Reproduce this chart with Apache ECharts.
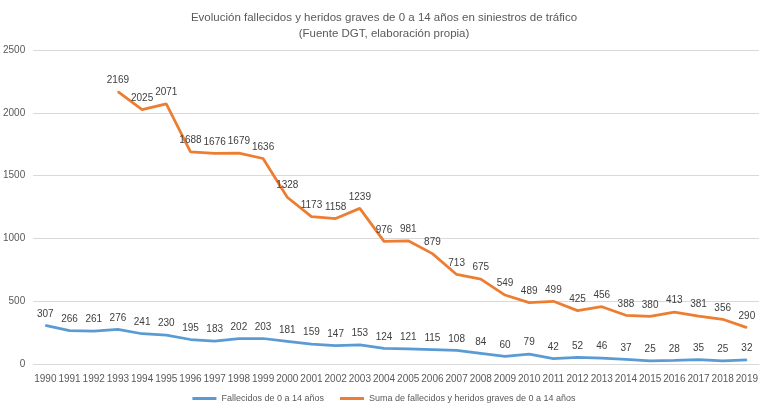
<!DOCTYPE html>
<html><head><meta charset="utf-8">
<script src="https://cdn.jsdelivr.net/npm/echarts@6/dist/echarts.min.js"></script>
<style>html,body{margin:0;padding:0;background:#fff}#c{width:768px;height:411px}</style>
</head><body><div id="c"></div>
<script>
const years = ['1990','1991','1992','1993','1994','1995','1996','1997','1998','1999','2000','2001','2002','2003','2004','2005','2006','2007','2008','2009','2010','2011','2012','2013','2014','2015','2016','2017','2018','2019'];
const fallecidos = [307,266,261,276,241,230,195,183,202,203,181,159,147,153,124,121,115,108,84,60,79,42,52,46,37,25,28,35,25,32];
const suma = [null,null,null,2169,2025,2071,1688,1676,1679,1636,1328,1173,1158,1239,976,981,879,713,675,549,489,499,425,456,388,380,413,381,356,290];
const yTicks = {min:0, max:2500, interval:500};
const font = "'Liberation Sans',Arial,sans-serif";
const chart = echarts.init(document.getElementById('c'));
const lbl = {show:true, position:'top', distance:6, color:'#404040', fontSize:10, fontFamily:font};
chart.setOption({
  animation:false,
  title:{text:'Evolución fallecidos y heridos graves de 0 a 14 años en siniestros de tráfico\n(Fuente DGT, elaboración propia)', left:'center', top:5,
    textStyle:{color:'#595959', fontSize:11.5, fontWeight:'normal', fontFamily:font, lineHeight:16}},
  legend:{bottom:3, left:'center', itemWidth:24, itemHeight:3, itemGap:16, icon:'rect',
    textStyle:{color:'#595959', fontSize:9, fontFamily:font}},
  grid:{left:33, right:9, top:50, bottom:47},
  xAxis:{type:'category', data:years, boundaryGap:true,
    axisLine:{lineStyle:{color:'#d9d9d9'}}, axisTick:{show:false},
    axisLabel:{color:'#595959', fontSize:10, fontFamily:font, interval:0, margin:10}},
  yAxis:{type:'value', min:yTicks.min, max:yTicks.max, interval:yTicks.interval,
    axisLine:{show:false}, axisTick:{show:false},
    splitLine:{lineStyle:{color:'#d9d9d9'}},
    axisLabel:{color:'#595959', fontSize:10, fontFamily:font, margin:8, formatter:v=>String(v)}},
  series:[
    {name:'Fallecidos de 0 a 14 años', type:'line', data:fallecidos, showSymbol:true, symbol:'circle', symbolSize:1,
      lineStyle:{color:'#5B9BD5', width:2.75}, itemStyle:{color:'#5B9BD5'}, label:lbl},
    {name:'Suma de fallecidos y heridos graves de 0 a 14 años', type:'line', data:suma, showSymbol:true, symbol:'circle', symbolSize:1,
      lineStyle:{color:'#ED7D31', width:2.75}, itemStyle:{color:'#ED7D31'}, label:lbl}
  ]
});
</script></body></html>
